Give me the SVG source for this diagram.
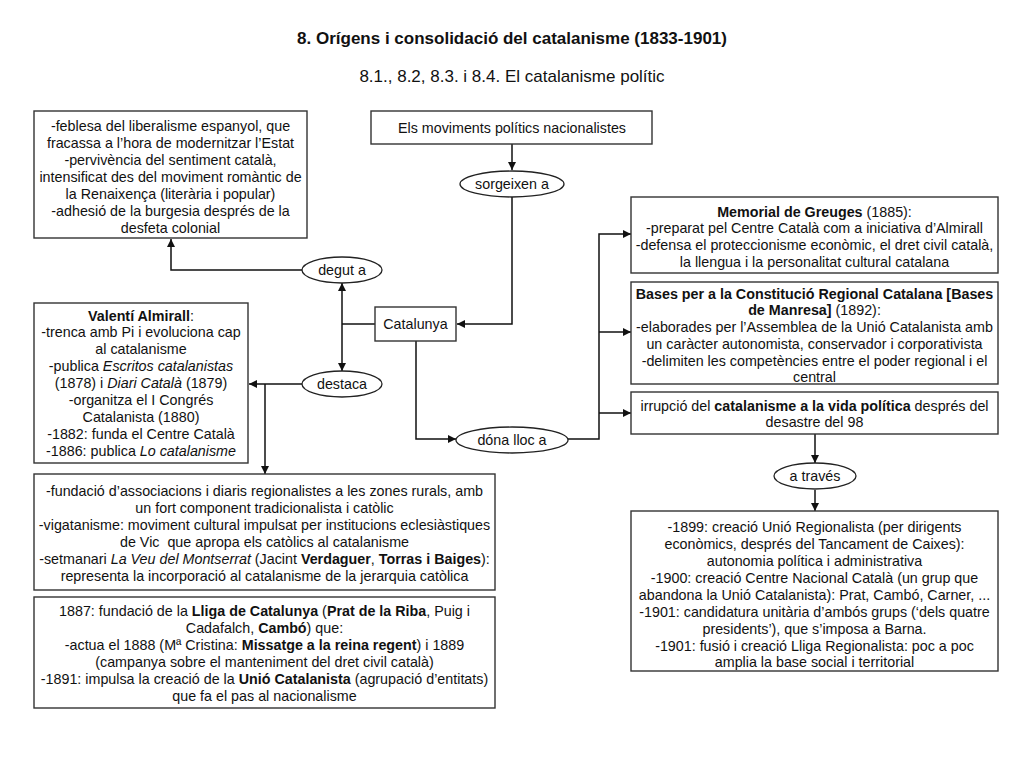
<svg xmlns="http://www.w3.org/2000/svg" width="1024" height="768" viewBox="0 0 1024 768">
<style>
text{font-family:"Liberation Sans",Arial,sans-serif;font-size:14.3px;fill:#111;text-anchor:middle}
.t{font-size:17px;font-weight:bold}
.s{font-size:17px}
.b{font-weight:bold}
.i{font-style:italic}
.box{fill:#fff;stroke:#333;stroke-width:1.4}
.ell{fill:#fff;stroke:#222;stroke-width:1.3}
.ln{fill:none;stroke:#111;stroke-width:1.5}
</style>
<defs>
<marker id="ah" viewBox="0 0 10 10" refX="10" refY="5" markerWidth="8" markerHeight="8" markerUnits="userSpaceOnUse" orient="auto-start-reverse">
<path d="M0,0 L10,5 L0,10 z" fill="#111"/>
</marker>
</defs>
<rect width="1024" height="768" fill="#fff"/>
<text class="t" x="512" y="44">8. Orígens i consolidació del catalanisme (1833-1901)</text>
<text class="s" x="512" y="82">8.1., 8.2, 8.3. i 8.4. El catalanisme polític</text>

<g id="connectors">
<path class="ln" d="M512,144 V170" marker-end="url(#ah)"/>
<path class="ln" d="M512,197 V324 H457" marker-end="url(#ah)"/>
<path class="ln" d="M375,324 H342"/>
<path class="ln" d="M342,283 V371" marker-start="url(#ah)" marker-end="url(#ah)"/>
<path class="ln" d="M302,270 H171 V239" marker-end="url(#ah)"/>
<path class="ln" d="M302,384 H249" marker-end="url(#ah)"/>
<path class="ln" d="M265,384 V474" marker-end="url(#ah)"/>
<path class="ln" d="M416,341 V439 H456" marker-end="url(#ah)"/>
<path class="ln" d="M568,439 H599 V234 H631" marker-end="url(#ah)"/>
<path class="ln" d="M599,332 H631" marker-end="url(#ah)"/>
<path class="ln" d="M599,413 H631" marker-end="url(#ah)"/>
<path class="ln" d="M815,434 V463" marker-end="url(#ah)"/>
<path class="ln" d="M815,490 V511" marker-end="url(#ah)"/>
</g>

<g id="moviments">
<rect class="box" x="371" y="111" width="281" height="33"/>
<text x="512" y="132.5">Els moviments polítics nacionalistes</text>
</g>
<g id="sorgeixen">
<ellipse class="ell" cx="512" cy="184" rx="52" ry="13"/>
<text x="512" y="188.5">sorgeixen a</text>
</g>
<g id="catalunya">
<rect class="box" x="375" y="307" width="81" height="34"/>
<text x="415.5" y="328.5">Catalunya</text>
</g>
<g id="degut">
<ellipse class="ell" cx="342" cy="270" rx="40" ry="13"/>
<text x="342" y="274.5">degut a</text>
</g>
<g id="destaca">
<ellipse class="ell" cx="342" cy="384" rx="40" ry="13"/>
<text x="342" y="388.5">destaca</text>
</g>
<g id="dona">
<ellipse class="ell" cx="512" cy="440" rx="56" ry="13"/>
<text x="512" y="444.5">dóna lloc a</text>
</g>
<g id="atraves">
<ellipse class="ell" cx="815" cy="476" rx="41" ry="13"/>
<text x="815" y="480.5">a través</text>
</g>

<g id="causes">
<rect class="box" x="34" y="111" width="273" height="127"/>
<text x="170.5" y="130.5">-feblesa del liberalisme espanyol, que</text>
<text x="170.5" y="147.5">fracassa a l’hora de modernitzar l’Estat</text>
<text x="170.5" y="164.5">-pervivència del sentiment català,</text>
<text x="170.5" y="181.5">intensificat des del moviment romàntic de</text>
<text x="170.5" y="198.5">la Renaixença (literària i popular)</text>
<text x="170.5" y="215.5">-adhesió de la burgesia després de la</text>
<text x="170.5" y="232.5">desfeta colonial</text>
</g>

<g id="almirall">
<rect class="box" x="34" y="303" width="214" height="160"/>
<text x="141" y="320.5"><tspan class="b">Valentí Almirall</tspan>:</text>
<text x="141" y="337">-trenca amb Pi i evoluciona cap</text>
<text x="141" y="354">al catalanisme</text>
<text x="141" y="371">-publica <tspan class="i">Escritos catalanistas</tspan></text>
<text x="141" y="388">(1878) i <tspan class="i">Diari Català</tspan> (1879)</text>
<text x="141" y="405">-organitza el I Congrés</text>
<text x="141" y="422">Catalanista (1880)</text>
<text x="141" y="439">-1882: funda el Centre Català</text>
<text x="141" y="456">-1886: publica <tspan class="i">Lo catalanisme</tspan></text>
</g>

<g id="regionalisme">
<rect class="box" x="34" y="474" width="461" height="116"/>
<text x="264.5" y="495.5">-fundació d’associacions i diaris regionalistes a les zones rurals, amb</text>
<text x="264.5" y="512.5">un fort component tradicionalista i catòlic</text>
<text x="264.5" y="529.5">-vigatanisme: moviment cultural impulsat per institucions eclesiàstiques</text>
<text x="264.5" y="546.5" xml:space="preserve">de Vic  que apropa els catòlics al catalanisme</text>
<text x="264.5" y="563.5">-setmanari <tspan class="i">La Veu del Montserrat</tspan> (Jacint <tspan class="b">Verdaguer</tspan>, <tspan class="b">Torras i Baiges</tspan>):</text>
<text x="264.5" y="580.5">representa la incorporació al catalanisme de la jerarquia catòlica</text>
</g>

<g id="lliga">
<rect class="box" x="34" y="597" width="461" height="111"/>
<text x="264.5" y="615.5">1887: fundació de la <tspan class="b">Lliga de Catalunya</tspan> (<tspan class="b">Prat de la Riba</tspan>, Puig i</text>
<text x="264.5" y="632.5">Cadafalch, <tspan class="b">Cambó</tspan>) que:</text>
<text x="264.5" y="649.5">-actua el 1888 (Mª Cristina: <tspan class="b">Missatge a la reina regent</tspan>) i 1889</text>
<text x="264.5" y="666.5">(campanya sobre el manteniment del dret civil català)</text>
<text x="264.5" y="683.5">-1891: impulsa la creació de la <tspan class="b">Unió Catalanista</tspan> (agrupació d’entitats)</text>
<text x="264.5" y="700.5">que fa el pas al nacionalisme</text>
</g>

<g id="memorial">
<rect class="box" x="631" y="197" width="367" height="76"/>
<text x="814.5" y="216.5"><tspan class="b">Memorial de Greuges</tspan> (1885):</text>
<text x="814.5" y="232.5">-preparat pel Centre Català com a iniciativa d’Almirall</text>
<text x="814.5" y="249.5">-defensa el proteccionisme econòmic, el dret civil català,</text>
<text x="814.5" y="266.5">la llengua i la personalitat cultural catalana</text>
</g>

<g id="bases">
<rect class="box" x="631" y="282" width="367" height="102"/>
<text x="814.5" y="298.5" class="b">Bases per a la Constitució Regional Catalana [Bases</text>
<text x="814.5" y="315"><tspan class="b">de Manresa]</tspan> (1892):</text>
<text x="814.5" y="332">-elaborades per l’Assemblea de la Unió Catalanista amb</text>
<text x="814.5" y="349">un caràcter autonomista, conservador i corporativista</text>
<text x="814.5" y="366">-delimiten les competències entre el poder regional i el</text>
<text x="814.5" y="382">central</text>
</g>

<g id="irrupcio">
<rect class="box" x="631" y="392" width="367" height="42"/>
<text x="814.5" y="410.5">irrupció del <tspan class="b">catalanisme a la vida política</tspan> després del</text>
<text x="814.5" y="426.5">desastre del 98</text>
</g>

<g id="lliga-regionalista">
<rect class="box" x="631" y="511" width="367" height="160"/>
<text x="814.5" y="531.5">-1899: creació Unió Regionalista (per dirigents</text>
<text x="814.5" y="548.5">econòmics, després del Tancament de Caixes):</text>
<text x="814.5" y="565.5">autonomia política i administrativa</text>
<text x="814.5" y="582.5">-1900: creació Centre Nacional Català (un grup que</text>
<text x="814.5" y="599.5">abandona la Unió Catalanista): Prat, Cambó, Carner, ...</text>
<text x="814.5" y="616.5">-1901: candidatura unitària d’ambós grups (‘dels quatre</text>
<text x="814.5" y="633.5">presidents’), que s’imposa a Barna.</text>
<text x="814.5" y="650.5">-1901: fusió i creació Lliga Regionalista: poc a poc</text>
<text x="814.5" y="666.5">amplia la base social i territorial</text>
</g>
</svg>
